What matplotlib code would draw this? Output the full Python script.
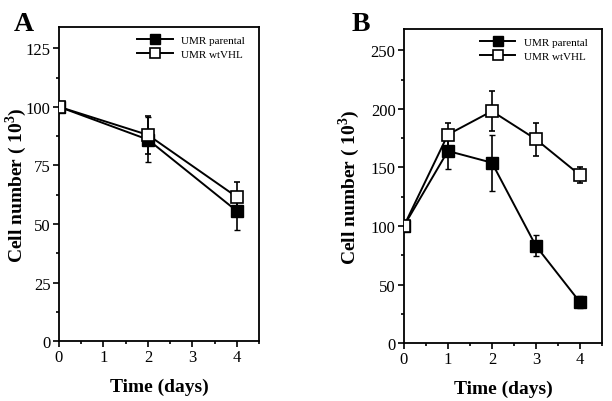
import numpy as np
import matplotlib.pyplot as plt
from matplotlib.ticker import MultipleLocator

plt.rcParams['font.family'] = 'Liberation Serif'
plt.rcParams['mathtext.fontset'] = 'custom'
plt.rcParams['mathtext.bf'] = 'Liberation Serif:bold'
plt.rcParams['mathtext.rm'] = 'Liberation Serif'

# panel A
days_a = [0, 2, 4]
parental_a = [100, 86, 55.5]
parental_a_err = [0, 9.5, 8]
wtvhl_a = [100, 88, 61.5]
wtvhl_a_err = [0, 8, 6.5]

# panel B
days_b = [0, 1, 2, 3, 4]
parental_b = [100, 164, 154, 83, 35]
parental_b_err = [0, 15, 24, 9, 5]
wtvhl_b = [100, 178, 198, 174, 143.5]
wtvhl_b_err = [0, 10, 17, 14, 6.5]

fig = plt.figure(figsize=(6.12, 4.02), dpi=100)
ax_a = fig.add_axes([0.0964, 0.149, 0.327, 0.781])
ax_b = fig.add_axes([0.660, 0.144, 0.3235, 0.781])


def draw(ax, x, p, pe, w, we, ymax, ymajor, yminor, ylab_x):
    ax.errorbar(x, p, yerr=pe, color='black', lw=1.4, marker='s', ms=8,
                mfc='black', mec='black', capsize=2.5, elinewidth=1.2,
                label='UMR parental', zorder=3)
    ax.errorbar(x, w, yerr=we, color='black', lw=1.4, marker='s', ms=8,
                mfc='white', mec='black', mew=1.2, capsize=2.5, elinewidth=1.2,
                label='UMR wtVHL', zorder=4)
    ax.set_xlim(0, 4.5)
    ax.set_ylim(0, ymax)
    ax.xaxis.set_major_locator(MultipleLocator(1))
    ax.xaxis.set_minor_locator(MultipleLocator(0.5))
    ax.yaxis.set_major_locator(MultipleLocator(ymajor))
    ax.yaxis.set_minor_locator(MultipleLocator(yminor))
    ax.tick_params(which='both', direction='out', top=False, right=False,
                   width=1.2, labelsize=12, pad=2)
    ax.tick_params(which='major', length=4)
    ax.tick_params(which='minor', length=2.5)
    for s in ax.spines.values():
        s.set_linewidth(1.3)
    ax.set_xlabel('Time (days)', fontsize=14, fontweight='bold', labelpad=9)
    ax.set_ylabel(r'Cell number ( 10$^{\mathbf{3}}$)', fontsize=14,
                  fontweight='bold')
    ax.yaxis.set_label_coords(ylab_x, 0.5)
    # legend without the error bars
    handles, labels = ax.get_legend_handles_labels()
    handles = [h[0] for h in handles]
    ax.legend(handles, labels, loc='upper right', frameon=False, fontsize=8,
              handlelength=3.2, borderaxespad=0.3, labelspacing=0.4,
              markerscale=0.85, bbox_to_anchor=(0.97, 1.0))


draw(ax_a, days_a, parental_a, parental_a_err, wtvhl_a, wtvhl_a_err,
     134, 25, 12.5, -0.15)
draw(ax_b, days_b, parental_b, parental_b_err, wtvhl_b, wtvhl_b_err,
     268, 50, 25, -0.21)

fig.text(0.022, 0.97, 'A', fontsize=20, fontweight='bold', va='top')
fig.text(0.575, 0.97, 'B', fontsize=20, fontweight='bold', va='top')

fig.savefig('out.png', dpi=100)
